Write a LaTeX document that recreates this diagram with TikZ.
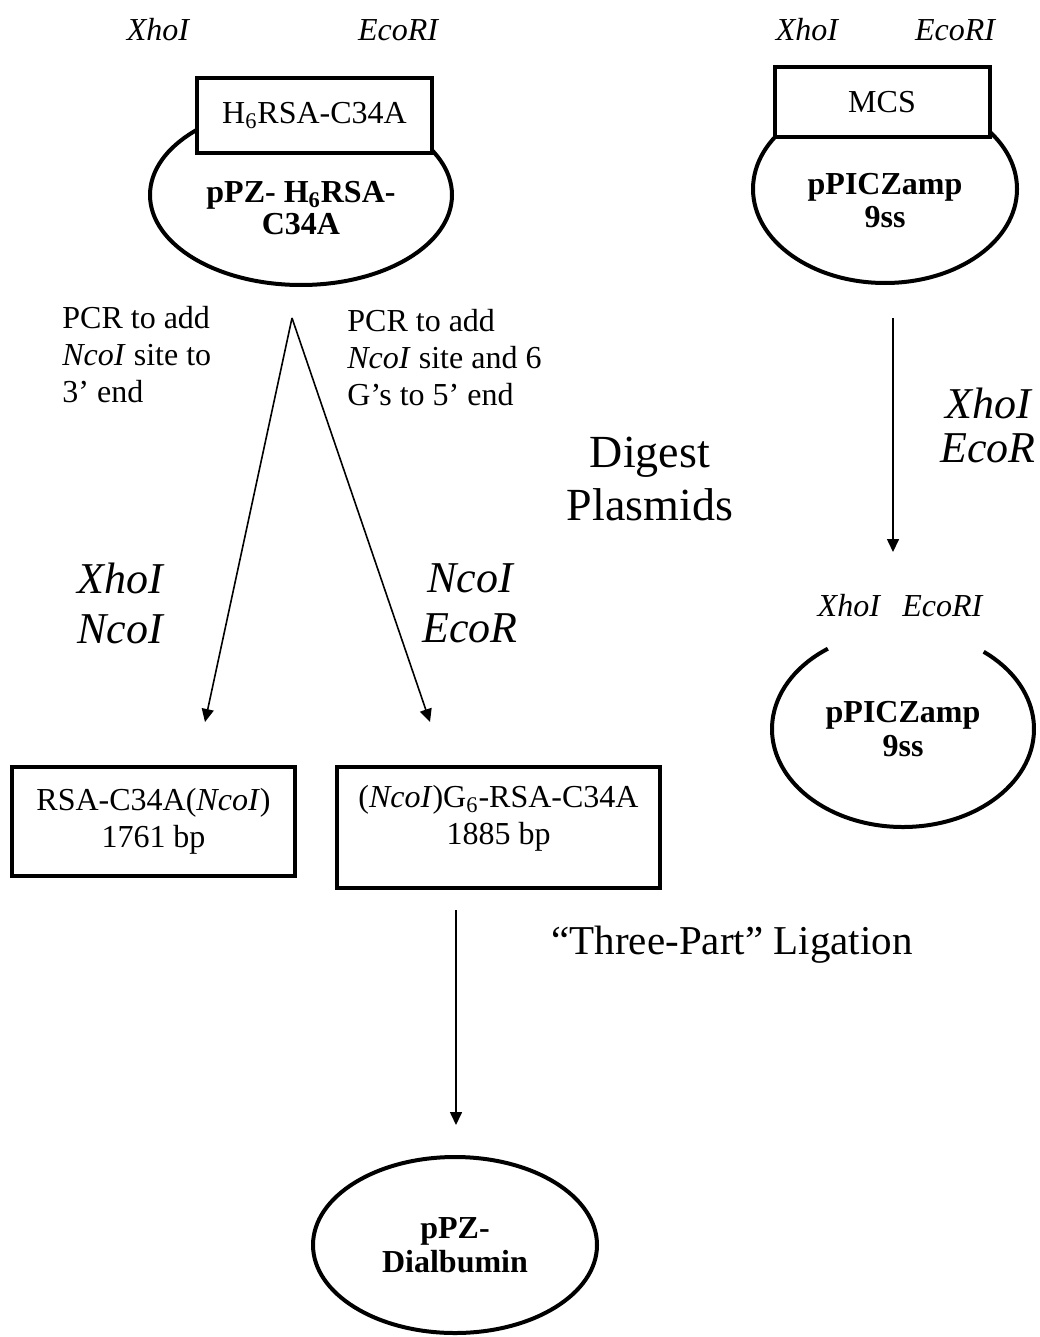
\documentclass[tikz,border=0pt]{standalone}
\usepackage{fontspec}
\setmainfont{Liberation Serif}
\usepackage{tikz}
\usetikzlibrary{arrows.meta,shapes.geometric}

\begin{document}
\begin{tikzpicture}[x=0.5pt, y=-0.5pt,
  every node/.style={font=\fontsize{16}{18.5}\selectfont, inner sep=1pt},
  plasmid/.style={ellipse, draw, line width=2pt, font=\fontsize{16}{17}\selectfont\bfseries, align=center},
  insert/.style={rectangle, draw, fill=white, line width=2pt},
  frag/.style={rectangle, draw, line width=2pt, align=center},
  site/.style={font=\fontsize{16}{18.5}\selectfont\itshape},
  enzyme/.style={font=\fontsize{22}{25}\selectfont\itshape, align=center},
  big/.style={font=\fontsize{23}{26.5}\selectfont, align=center},
  arr/.style={-{Triangle[length=6.5pt,width=6pt]}, line width=0.8pt}]
\useasboundingbox (0,0) rectangle (1039,1337);
% ---- top left: source plasmid
\node[site] (siteXA) at (158,30) {XhoI};
\node[site] (siteEA) at (398,30) {EcoRI};
\node[plasmid, minimum width=151pt, minimum height=90pt] (plasA) at (301,195) {};
\node[insert, minimum width=117.5pt, minimum height=37.5pt] (insA) at (314.5,115.5) {H\textsubscript{6}RSA-C34A};
\node[font=\fontsize{16}{15}\selectfont\bfseries, align=center] (nameA) at (301,208) {pPZ- H\textsubscript{6}RSA-\\[1pt]C34A};
% ---- top right: vector
\node[site] (siteXB) at (807,30) {XhoI};
\node[site] (siteEB) at (955,30) {EcoRI};
\node[plasmid, minimum width=132pt, minimum height=94pt] (plasB) at (885,189) {};
\node[insert, minimum width=107.5pt, minimum height=35pt] (insB) at (882,102) {MCS};
\node[font=\fontsize{16}{16.5}\selectfont\bfseries, align=center] (nameB) at (885,201) {pPICZamp\\9ss};
% ---- PCR split
\coordinate (splitTop) at (292,318);
\coordinate (leftEnd) at (205,722);
\coordinate (rightEnd) at (430,722);
\node[anchor=west, align=left] (pcrL) at (60,355) {PCR to add\\\textit{NcoI} site to\\3’ end};
\node[anchor=west, align=left] (pcrR) at (345,358) {PCR to add\\\textit{NcoI} site and 6\\G’s to 5’ end};
\draw[arr] (splitTop) -- (leftEnd);
\draw[arr] (splitTop) -- (rightEnd);
\node[enzyme] (enzL) at (120,603) {XhoI\\NcoI};
\node[enzyme] (enzR) at (470,603) {NcoI\\EcoR};
\node[big] (digest) at (650,479) {Digest\\Plasmids};
% ---- vector digest
\coordinate (digTop) at (893,318);
\coordinate (digEnd) at (893,552);
\draw[arr] (digTop) -- (digEnd);
\node[enzyme, font=\fontsize{22}{22}\selectfont\itshape] (enzB) at (988,425) {XhoI\\EcoR};
\node[site] (sitesC) at (900,606) {XhoI\hspace{0.7em}EcoRI};
\node[plasmid, draw=none, minimum width=131pt, minimum height=98pt] (plasC) at (903,729) {pPICZamp\\9ss};
\draw[line width=2pt] (plasC.center) ++(-52:131 and 98) arc[start angle=-52, end angle=235, x radius=131, y radius=98];
% ---- fragments
\node[frag, minimum width=141.5pt, minimum height=54.5pt] (fragA) at (153.5,821.5) {RSA-C34A(\textit{NcoI})\\1761 bp};
\node[frag, minimum width=161.5pt, minimum height=60.5pt] (fragB) at (498.5,827.5) {};
\node[align=center] (fragBtext) at (498.5,818) {(\textit{NcoI})G\textsubscript{6}-RSA-C34A\\1885 bp};
% ---- ligation
\coordinate (ligTop) at (456,910);
\coordinate (ligEnd) at (456,1125);
\draw[arr] (ligTop) -- (ligEnd);
\node[font=\fontsize{20.5}{24}\selectfont] (ligation) at (732,945) {“Three-Part” Ligation};
\node[plasmid, minimum width=142pt, minimum height=88pt] (plasD) at (455,1245) {pPZ-\\Dialbumin};
\end{tikzpicture}
\end{document}
